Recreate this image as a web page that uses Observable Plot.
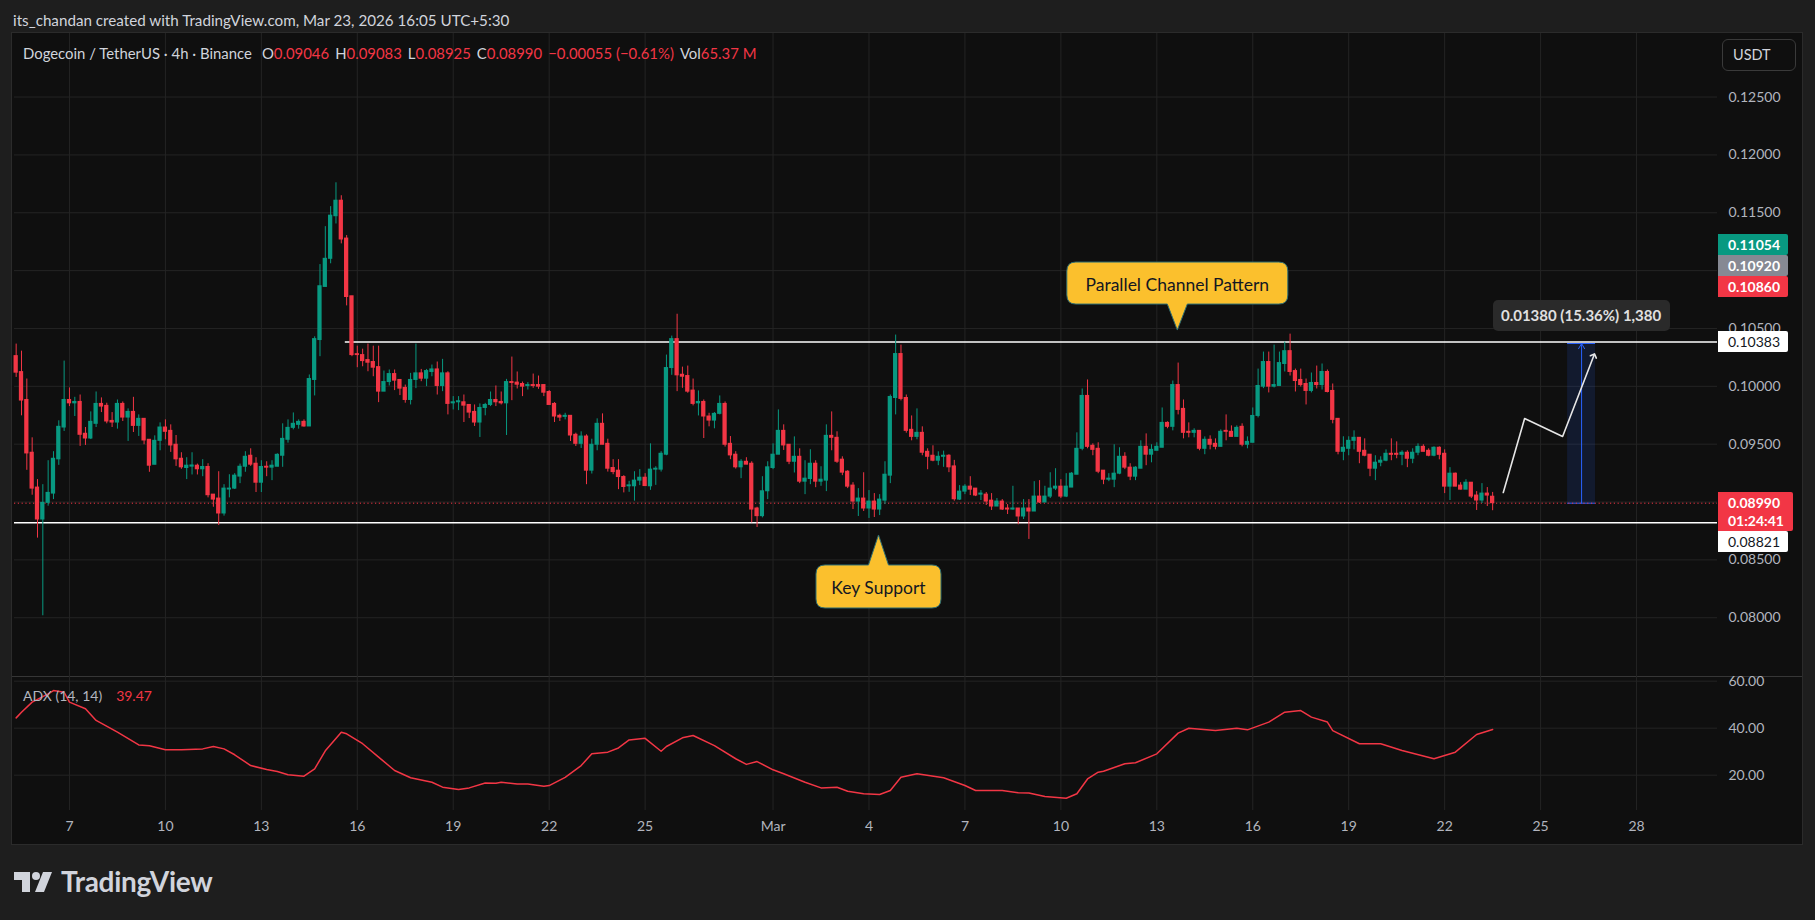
<!DOCTYPE html>
<html><head><meta charset="utf-8">
<script src="https://cdn.jsdelivr.net/npm/d3@7"></script>
<script src="https://cdn.jsdelivr.net/npm/@observablehq/plot@0.6"></script>
<style>
html,body{margin:0;padding:0;background:#1e1e1e;}
#root{position:relative;width:1815px;height:920px;overflow:hidden;background:#1e1e1e;font-family:Lato,"DejaVu Sans",sans-serif;}
.abs{position:absolute;white-space:nowrap;}
#frame{left:11px;top:32px;width:1792px;height:813px;background:#0f0f0f;box-sizing:border-box;border:1px solid #2b2b2b;}
.plab{position:absolute;box-sizing:border-box;font-size:14px;padding-left:10px;line-height:21px;height:21px;}
.red{color:#f23645;}
.gap{margin-left:6px;}
</style></head>
<body>
<div id="root">
  <div class="abs" style="left:13px;top:11px;font-size:15.2px;color:#d1d4dc;">its_chandan created with TradingView.com, Mar 23, 2026 16:05 UTC+5:30</div>
  <div id="frame" class="abs"></div>
  <div id="mainWrap" class="abs" style="left:12px;top:33px;"></div>
  <div class="abs" style="left:12px;top:675.5px;width:1790px;height:1px;background:#363636;"></div>
  <div id="adxWrap" class="abs" style="left:12px;top:676px;"></div>
  <div class="abs" style="left:23px;top:43.5px;font-size:14.9px;color:#d1d4dc;">Dogecoin / TetherUS · 4h · Binance<span style="margin-left:10px">O</span><span class="red">0.09046</span><span class="gap">H</span><span class="red">0.09083</span><span class="gap">L</span><span class="red">0.08925</span><span class="gap">C</span><span class="red">0.08990</span><span class="red gap">−0.00055 (−0.61%)</span><span class="gap">Vol</span><span class="red">65.37 M</span></div>
  <div class="abs" style="left:1722px;top:39px;width:74px;height:32px;box-sizing:border-box;border:1px solid #3a3a3a;border-radius:6px;color:#d1d4dc;font-size:14.5px;line-height:30px;padding-left:10px;">USDT</div>
  <div class="abs" style="left:23px;top:687px;font-size:14px;color:#b2b5be;">ADX (14, 14)<span class="red" style="margin-left:14px">39.47</span></div>
  <svg class="abs" style="left:14px;top:870px;" width="40" height="24" viewBox="0 0 40 22">
    <path d="M0 1 H16 V21 H8 V9 H0 Z" fill="#d1d4dc"/>
    <circle cx="22" cy="5" r="4" fill="#d1d4dc"/>
    <path d="M29 1 H38 L30 21 H21 Z" fill="#d1d4dc"/>
  </svg>
  <div class="abs" style="left:61px;top:864px;font-size:28px;font-weight:700;color:#d1d4dc;letter-spacing:-0.3px;">TradingView</div>
  <div id="overlay" class="abs" style="left:0;top:0;width:1815px;height:920px;pointer-events:none;"></div>
</div>
<script>
// ---------- data ----------
const candleStart = "2026-02-05T08:00:00Z"; // first 4h candle
const ohlc = [
[0.10261,0.10365,0.10077,0.10118],[0.10123,0.10304,0.09745,0.09877],[0.09882,0.10063,0.09274,0.09420],[0.09426,0.09555,0.09059,0.09116],
[0.09125,0.09194,0.08688,0.08849],[0.08849,0.09150,0.08017,0.08993],[0.08993,0.09357,0.08964,0.09079],[0.09073,0.09435,0.09021,0.09374],
[0.09369,0.09702,0.09317,0.09650],[0.09644,0.10218,0.09610,0.09882],[0.09882,0.09986,0.09825,0.09853],[0.09853,0.09905,0.09739,0.09865],
[0.09865,0.09925,0.09481,0.09581],[0.09590,0.09644,0.09489,0.09549],[0.09549,0.09779,0.09540,0.09693],[0.09676,0.09951,0.09644,0.09848],
[0.09848,0.09900,0.09773,0.09825],[0.09831,0.09854,0.09676,0.09696],[0.09701,0.09773,0.09644,0.09687],[0.09687,0.09882,0.09630,0.09848],
[0.09848,0.09865,0.09696,0.09730],[0.09730,0.09805,0.09524,0.09779],[0.09779,0.09905,0.09601,0.09658],[0.09658,0.09753,0.09567,0.09719],
[0.09719,0.09719,0.09495,0.09532],[0.09538,0.09538,0.09257,0.09314],[0.09322,0.09572,0.09322,0.09529],[0.09529,0.09684,0.09443,0.09644],
[0.09644,0.09710,0.09538,0.09607],[0.09615,0.09667,0.09429,0.09489],[0.09495,0.09575,0.09308,0.09369],[0.09374,0.09426,0.09283,0.09300],
[0.09294,0.09383,0.09194,0.09314],[0.09306,0.09426,0.09234,0.09316],[0.09314,0.09328,0.09234,0.09283],[0.09283,0.09366,0.09219,0.09303],
[0.09303,0.09331,0.09036,0.09059],[0.09064,0.09064,0.08955,0.09021],[0.09030,0.09262,0.08797,0.08901],[0.08901,0.09150,0.08878,0.09116],
[0.09108,0.09236,0.09036,0.09116],[0.09116,0.09245,0.09108,0.09228],[0.09220,0.09328,0.09159,0.09305],[0.09305,0.09435,0.09257,0.09391],
[0.09400,0.09460,0.09308,0.09323],[0.09331,0.09383,0.09082,0.09167],[0.09167,0.09357,0.09082,0.09303],[0.09305,0.09348,0.09219,0.09297],
[0.09297,0.09357,0.09185,0.09314],[0.09305,0.09417,0.09305,0.09408],[0.09400,0.09676,0.09300,0.09546],[0.09538,0.09710,0.09509,0.09641],
[0.09641,0.09770,0.09624,0.09676],[0.09667,0.09710,0.09630,0.09693],[0.09693,0.09710,0.09647,0.09653],[0.09653,0.10098,0.09653,0.10063],
[0.10055,0.10428,0.09917,0.10408],[0.10400,0.11052,0.10256,0.10865],[0.10859,0.11380,0.10859,0.11102],[0.11102,0.11553,0.11059,0.11475],
[0.11470,0.11759,0.11403,0.11604],[0.11604,0.11647,0.11231,0.11269],[0.11277,0.11303,0.10695,0.10772],[0.10778,0.10778,0.10256,0.10270],
[0.10278,0.10347,0.10161,0.10270],[0.10270,0.10321,0.10169,0.10218],[0.10227,0.10365,0.10126,0.10204],[0.10210,0.10347,0.10083,0.10161],
[0.10166,0.10347,0.09859,0.09954],[0.09954,0.10132,0.09954,0.10037],[0.10037,0.10141,0.10003,0.10106],[0.10106,0.10141,0.09963,0.10049],
[0.10055,0.10055,0.09920,0.09980],[0.09986,0.10011,0.09854,0.09882],[0.09882,0.10112,0.09839,0.10055],[0.10055,0.10365,0.09980,0.10112],
[0.10112,0.10146,0.10040,0.10066],[0.10066,0.10146,0.09997,0.10132],[0.10124,0.10184,0.10083,0.10146],[0.10146,0.10210,0.09925,0.10003],
[0.10003,0.10233,0.09954,0.10112],[0.10112,0.10126,0.09753,0.09848],[0.09853,0.09911,0.09796,0.09862],[0.09862,0.09911,0.09790,0.09871],
[0.09862,0.09925,0.09687,0.09833],[0.09839,0.09839,0.09721,0.09773],[0.09779,0.09839,0.09653,0.09687],[0.09687,0.09848,0.09558,0.09813],
[0.09813,0.09853,0.09745,0.09839],[0.09839,0.09951,0.09825,0.09882],[0.09882,0.10003,0.09825,0.09862],[0.09865,0.09951,0.09839,0.09853],
[0.09853,0.10060,0.09575,0.10037],[0.10037,0.10253,0.09876,0.10029],[0.10032,0.10124,0.09977,0.10014],[0.10020,0.10037,0.09911,0.09997],
[0.10003,0.10032,0.09968,0.10011],[0.10011,0.10106,0.09983,0.10003],[0.10011,0.10089,0.09974,0.09997],[0.10011,0.10011,0.09911,0.09945],
[0.09951,0.09963,0.09839,0.09839],[0.09848,0.09859,0.09687,0.09739],[0.09745,0.09759,0.09696,0.09730],[0.09736,0.09767,0.09710,0.09745],
[0.09745,0.09745,0.09523,0.09575],[0.09581,0.09595,0.09480,0.09503],[0.09503,0.09607,0.09463,0.09566],[0.09566,0.09581,0.09150,0.09271],
[0.09271,0.09543,0.09242,0.09495],[0.09495,0.09719,0.09443,0.09676],[0.09676,0.09762,0.09495,0.09495],[0.09503,0.09543,0.09259,0.09288],
[0.09294,0.09366,0.09236,0.09259],[0.09271,0.09366,0.09107,0.09216],[0.09216,0.09228,0.09079,0.09130],[0.09136,0.09179,0.09084,0.09144],
[0.09136,0.09262,0.09007,0.09185],[0.09185,0.09280,0.09142,0.09210],[0.09210,0.09245,0.09136,0.09138],[0.09136,0.09503,0.09101,0.09280],
[0.09280,0.09305,0.09144,0.09288],[0.09280,0.09435,0.09259,0.09417],[0.09409,0.10270,0.09400,0.10158],[0.10158,0.10434,0.10095,0.10408],
[0.10408,0.10623,0.09954,0.10095],[0.10100,0.10166,0.09983,0.10083],[0.10089,0.10175,0.09940,0.09954],[0.09963,0.10063,0.09831,0.09848],
[0.09853,0.09960,0.09744,0.09865],[0.09865,0.09882,0.09549,0.09739],[0.09739,0.09767,0.09650,0.09704],[0.09704,0.09773,0.09633,0.09762],
[0.09762,0.09917,0.09753,0.09848],[0.09848,0.09865,0.09475,0.09495],[0.09503,0.09566,0.09366,0.09403],[0.09409,0.09435,0.09285,0.09300],
[0.09300,0.09366,0.09202,0.09348],[0.09348,0.09383,0.09323,0.09323],[0.09331,0.09348,0.08820,0.08935],[0.08944,0.08955,0.08780,0.08878],
[0.08878,0.09219,0.08863,0.09093],[0.09093,0.09348,0.09021,0.09300],[0.09294,0.09503,0.09280,0.09409],[0.09409,0.09796,0.09409,0.09615],
[0.09615,0.09667,0.09446,0.09489],[0.09495,0.09495,0.09323,0.09348],[0.09348,0.09563,0.09251,0.09391],[0.09391,0.09460,0.09159,0.09176],
[0.09176,0.09357,0.09064,0.09202],[0.09199,0.09452,0.09150,0.09331],[0.09331,0.09357,0.09124,0.09176],[0.09176,0.09305,0.09136,0.09193],
[0.09185,0.09667,0.09090,0.09572],[0.09572,0.09779,0.09443,0.09555],[0.09555,0.09607,0.09334,0.09348],[0.09366,0.09391,0.09228,0.09254],
[0.09262,0.09271,0.09116,0.09133],[0.09142,0.09167,0.08935,0.09004],[0.09004,0.09116,0.08875,0.09030],[0.09030,0.09253,0.08918,0.08944],
[0.08944,0.09099,0.08858,0.09004],[0.09004,0.09073,0.08866,0.08935],[0.08935,0.09064,0.08883,0.09021],[0.09012,0.09348,0.08978,0.09236],
[0.09228,0.09925,0.09159,0.09908],[0.09899,0.10443,0.09753,0.10279],[0.10279,0.10356,0.09874,0.09891],[0.09899,0.09925,0.09595,0.09615],
[0.09624,0.09744,0.09529,0.09563],[0.09563,0.09805,0.09538,0.09598],[0.09598,0.09650,0.09400,0.09426],[0.09434,0.09460,0.09279,0.09391],
[0.09400,0.09486,0.09348,0.09357],[0.09357,0.09434,0.09314,0.09391],[0.09391,0.09440,0.09300,0.09400],[0.09400,0.09409,0.09254,0.09300],
[0.09308,0.09360,0.09007,0.09024],[0.09021,0.09142,0.09013,0.09090],[0.09090,0.09150,0.09064,0.09133],[0.09133,0.09219,0.09056,0.09107],
[0.09116,0.09116,0.09047,0.09056],[0.09064,0.09099,0.09013,0.09073],[0.09064,0.09082,0.08970,0.09004],[0.09012,0.09073,0.08927,0.08961],
[0.08961,0.09030,0.08961,0.09004],[0.09004,0.09021,0.08927,0.08935],[0.08944,0.08978,0.08892,0.08935],[0.08935,0.09136,0.08930,0.08944],
[0.08944,0.08944,0.08803,0.08875],[0.08875,0.09021,0.08849,0.08944],[0.08944,0.09021,0.08677,0.08918],[0.08918,0.09176,0.08918,0.09047],
[0.09047,0.09185,0.08987,0.08996],[0.08996,0.09136,0.08996,0.09047],[0.09047,0.09253,0.09030,0.09116],[0.09116,0.09288,0.09099,0.09133],
[0.09133,0.09193,0.09030,0.09047],[0.09047,0.09245,0.09038,0.09133],[0.09125,0.09254,0.09125,0.09245],[0.09236,0.09598,0.09236,0.09460],
[0.09460,0.09977,0.09443,0.09917],[0.09917,0.10055,0.09460,0.09477],[0.09486,0.09503,0.09400,0.09451],[0.09460,0.09512,0.09245,0.09262],
[0.09271,0.09271,0.09150,0.09193],[0.09193,0.09245,0.09176,0.09202],[0.09193,0.09495,0.09124,0.09245],[0.09245,0.09469,0.09236,0.09391],
[0.09391,0.09426,0.09280,0.09297],[0.09297,0.09331,0.09185,0.09219],[0.09219,0.09305,0.09185,0.09297],[0.09288,0.09529,0.09288,0.09477],
[0.09477,0.09589,0.09314,0.09409],[0.09409,0.09495,0.09339,0.09451],[0.09443,0.09512,0.09443,0.09477],[0.09469,0.09813,0.09469,0.09684],
[0.09684,0.09693,0.09633,0.09650],[0.09650,0.10046,0.09615,0.10011],[0.10011,0.10201,0.09753,0.09796],[0.09805,0.09882,0.09546,0.09598],
[0.09607,0.09684,0.09555,0.09598],[0.09598,0.09633,0.09555,0.09615],[0.09615,0.09615,0.09443,0.09460],[0.09460,0.09563,0.09409,0.09538],
[0.09538,0.09572,0.09451,0.09495],[0.09503,0.09546,0.09451,0.09477],[0.09477,0.09624,0.09477,0.09607],[0.09615,0.09753,0.09529,0.09607],
[0.09607,0.09658,0.09563,0.09563],[0.09563,0.09658,0.09563,0.09641],[0.09650,0.09676,0.09477,0.09495],[0.09495,0.09563,0.09460,0.09520],
[0.09512,0.09813,0.09512,0.09744],[0.09744,0.10149,0.09727,0.10003],[0.09997,0.10296,0.09980,0.10210],[0.10210,0.10296,0.09943,0.09997],
[0.09997,0.10356,0.09986,0.10011],[0.10003,0.10296,0.10003,0.10201],[0.10193,0.10382,0.10124,0.10304],[0.10304,0.10451,0.10089,0.10124],
[0.10132,0.10149,0.09951,0.10046],[0.10055,0.10149,0.09994,0.10011],[0.10020,0.10063,0.09839,0.09960],[0.09960,0.10115,0.09943,0.10029],
[0.10029,0.10175,0.09977,0.10011],[0.10011,0.10193,0.09968,0.10124],[0.10124,0.10141,0.09943,0.09951],[0.09960,0.10020,0.09676,0.09710],
[0.09719,0.09719,0.09408,0.09434],[0.09434,0.09564,0.09357,0.09469],[0.09460,0.09564,0.09400,0.09529],[0.09529,0.09615,0.09451,0.09555],
[0.09555,0.09555,0.09331,0.09434],[0.09443,0.09546,0.09391,0.09400],[0.09409,0.09409,0.09219,0.09288],[0.09288,0.09400,0.09185,0.09340],
[0.09340,0.09391,0.09305,0.09357],[0.09357,0.09451,0.09348,0.09417],[0.09417,0.09546,0.09357,0.09408],[0.09417,0.09520,0.09374,0.09408],
[0.09408,0.09443,0.09314,0.09426],[0.09426,0.09443,0.09297,0.09374],[0.09374,0.09460,0.09331,0.09426],[0.09426,0.09503,0.09400,0.09477],
[0.09477,0.09495,0.09434,0.09434],[0.09443,0.09460,0.09391,0.09400],[0.09400,0.09477,0.09391,0.09469],[0.09469,0.09477,0.09365,0.09408],
[0.09417,0.09451,0.09073,0.09133],[0.09133,0.09297,0.09013,0.09245],[0.09245,0.09250,0.09133,0.09133],[0.09142,0.09167,0.09105,0.09107],
[0.09107,0.09193,0.09107,0.09167],[0.09167,0.09167,0.09030,0.09047],[0.09056,0.09090,0.08927,0.09013],[0.09013,0.09159,0.08987,0.09073],
[0.09073,0.09125,0.08961,0.09056],[0.09046,0.09083,0.08925,0.08990]
];
// ADX (14,14) readings: [candle index, value]
const adxPoints = [
[0,44.4],[1,46.8],[3,51.1],[6,54.6],[7,56.0],[9,55.3],[10,51.1],[13,48.3],[15,43.3],[19,38.3],[23,32.9],[25,32.5],
[28,30.8],[31,30.8],[35,31.2],[37,32.2],[39,31.2],[41,28.7],[44,24.1],[47,22.4],[49,21.6],[51,20.2],[54,19.6],[56,22.7],
[58,30.4],[61,38.3],[62,37.6],[65,33.4],[68,27.7],[71,22.0],[74,18.9],[78,17.0],[80,14.9],[83,13.9],[85,14.6],[88,16.7],
[90,16.6],[91,17.0],[94,16.3],[96,16.3],[99,15.3],[100,15.6],[103,19.1],[106,24.1],[108,29.1],[111,29.8],[113,31.6],[115,35.0],
[118,35.7],[121,30.2],[122,32.2],[125,35.9],[127,36.9],[131,32.6],[135,27.0],[137,24.6],[139,25.8],[142,22.3],[144,20.6],[148,17.0],
[151,14.6],[154,14.9],[156,13.2],[159,12.1],[162,11.8],[164,13.5],[166,19.1],[169,20.6],[174,18.9],[178,15.6],[180,13.5],[185,13.5],
[188,12.5],[190,12.4],[193,10.9],[197,10.2],[199,12.1],[201,18.4],[203,21.3],[204,21.7],[208,24.9],[210,25.3],[214,29.1],[218,37.9],
[220,40.0],[225,39.0],[229,40.0],[231,39.3],[235,42.6],[238,46.8],[241,47.5],[243,44.7],[246,42.6],[247,39.0],[252,33.4],[256,33.4],
[260,30.5],[266,27.0],[270,29.8],[274,37.3],[277,39.47]
];
const xTickDates = ["2026-02-07","2026-02-10","2026-02-13","2026-02-16","2026-02-19","2026-02-22","2026-02-25","2026-03-01","2026-03-04","2026-03-07","2026-03-10","2026-03-13","2026-03-16","2026-03-19","2026-03-22","2026-03-25","2026-03-28"];
const xTickLabels = ["7","10","13","16","19","22","25","Mar","4","7","10","13","16","19","22","25","28"];
const priceGrid = [0.080,0.085,0.090,0.095,0.100,0.105,0.110,0.115,0.120,0.125];
// 0.09000 and 0.11000 sit behind the price labels in the reference, so they are not printed
const priceTickLabels = [0.080,0.085,0.095,0.100,0.105,0.115,0.120,0.125];
const adxTicks = [20,40,60];
const resistance = 0.10383, support = 0.08821, lastPrice = 0.08990;
const resistanceStart = "2026-02-15T15:00:00Z";
const projection = [["2026-03-23T20:00:00Z",0.09082],["2026-03-24T12:00:00Z",0.09722],["2026-03-25T16:30:00Z",0.09567],["2026-03-26T16:00:00Z",0.10267]];
const measure = {t1:"2026-03-25T20:15:00Z", t2:"2026-03-26T17:15:00Z", p1:0.08990, p2:0.10370, text:"0.01380 (15.36%) 1,380"};
const callouts = [
  {text:"Parallel Channel Pattern", t:"2026-03-13T15:45:00Z", p:0.10482, w:221, h:42, gap:26, dir:"above"},
  {text:"Key Support", t:"2026-03-04T07:30:00Z", p:0.08711, w:125, h:43, gap:30, dir:"below"}
];
const axisLabels = [
  {v:0.11054, text:"0.11054", bg:"#089981", fg:"#ffffff"},
  {v:0.10920, text:"0.10920", bg:"#868993", fg:"#ffffff"},
  {v:0.10860, text:"0.10860", bg:"#f23645", fg:"#ffffff"},
  {v:0.10383, text:"0.10383", bg:"#ffffff", fg:"#131722"},
  {v:0.08990, text:"0.08990", sub:"01:24:41", bg:"#f23645", fg:"#ffffff", fixed:true},
  {v:0.08821, text:"0.08821", bg:"#ffffff", fg:"#131722"}
];
const xDomain = ["2026-02-05T06:45:00Z","2026-03-30T12:45:00Z"];
const yDomain = [0.074922, 0.130492];
const adxDomain = [4.98, 62.0];

// ---------- build ----------
const UP = "#089981", DOWN = "#f23645", GRID = "#242424";
const H = 3600 * 1000;
const t0 = new Date(candleStart).getTime();
const candles = ohlc.map((d, i) => ({t: new Date(t0 + i * 4 * H), o: d[0], h: d[1], l: d[2], c: d[3]}));
const col = d => d.c >= d.o ? UP : DOWN;
const tickDates = xTickDates.map(s => new Date(s + "T00:00:00Z"));
const tickLabelMap = new Map(tickDates.map((d, i) => [+d, xTickLabels[i]]));
const xd = xDomain.map(s => new Date(s));
const baseStyle = {background: "transparent", color: "#b2b5be", fontFamily: "Lato, DejaVu Sans, sans-serif", fontSize: "14px", overflow: "visible"};

const main = Plot.plot({
  width: 1790, height: 643, marginLeft: 2, marginRight: 85, marginTop: 0, marginBottom: 0,
  style: baseStyle,
  color: {type: "identity"},
  x: {type: "utc", domain: xd, axis: null},
  y: {domain: yDomain, axis: null},
  marks: [
    Plot.gridX(tickDates, {stroke: GRID, strokeOpacity: 1}),
    Plot.gridY(priceGrid, {stroke: GRID, strokeOpacity: 1}),
    Plot.axisY(priceTickLabels, {anchor: "right", tickSize: 0, tickPadding: 11, tickFormat: d3.format(".5f"), fill: "#b2b5be", fontSize: 14, label: null}),
    Plot.rect([measure], {x1: d => new Date(d.t1), x2: d => new Date(d.t2), y1: "p1", y2: "p2", fill: "#2962ff", fillOpacity: 0.13}),
    Plot.ruleY([measure], {x1: d => new Date(d.t1), x2: d => new Date(d.t2), y: "p1", stroke: "#2962ff", strokeWidth: 1}),
    Plot.ruleY([measure], {x1: d => new Date(d.t1), x2: d => new Date(d.t2), y: "p2", stroke: "#2962ff", strokeWidth: 1}),
    Plot.arrow([measure], {x: d => new Date((new Date(d.t1).getTime() + new Date(d.t2).getTime()) / 2), y1: "p1", y2: "p2", stroke: "#2962ff", strokeWidth: 1, headLength: 9, bend: false}),
    Plot.ruleY([lastPrice], {stroke: DOWN, strokeWidth: 1, strokeDasharray: "1.2,2.6"}),
    Plot.ruleY([support], {stroke: "#ffffff", strokeWidth: 1.5}),
    Plot.ruleY([resistance], {x1: new Date(resistanceStart), x2: xd[1], stroke: "#ffffff", strokeWidth: 1.5}),
    Plot.ruleX(candles, {x: "t", y1: "l", y2: "h", stroke: col, strokeWidth: 1}),
    Plot.rect(candles, {x1: d => new Date(+d.t - 1.6 * H), x2: d => new Date(+d.t + 1.6 * H), y1: d => Math.min(d.o, d.c), y2: d => Math.max(d.o, d.c), fill: col, insetTop: -0.5, insetBottom: -0.5}),
    Plot.line(projection, {x: d => new Date(d[0]), y: d => d[1], stroke: "#e6e6e6", strokeWidth: 1.6, markerEnd: "arrow"})
  ]
});
document.getElementById("mainWrap").appendChild(main);

const adx = Plot.plot({
  width: 1790, height: 168, marginLeft: 2, marginRight: 85, marginTop: 0, marginBottom: 34,
  style: baseStyle,
  x: {type: "utc", domain: xd, axis: null},
  y: {domain: adxDomain, axis: null},
  marks: [
    Plot.gridX(tickDates, {stroke: GRID, strokeOpacity: 1}),
    Plot.gridY(adxTicks, {stroke: GRID, strokeOpacity: 1}),
    Plot.axisY(adxTicks, {anchor: "right", tickSize: 0, tickPadding: 11, tickFormat: d3.format(".2f"), fill: "#b2b5be", fontSize: 14, label: null}),
    Plot.axisX(tickDates, {anchor: "bottom", tickSize: 0, tickPadding: 11, tickFormat: d => tickLabelMap.get(+d), fill: "#b2b5be", fontSize: 14, label: null}),
    Plot.line(adxPoints, {x: d => new Date(t0 + d[0] * 4 * H), y: d => d[1], stroke: DOWN, strokeWidth: 1.5})
  ]
});
document.getElementById("adxWrap").appendChild(adx);

// ---------- overlays positioned through the Plot scales ----------
const xs = main.scale("x"), ys = main.scale("y");
const PX = d => 12 + xs.apply(d);
const PY = v => 33 + ys.apply(v);
const root = d3.select("#root");

// right-axis price labels with simple collision resolution
const labs = axisLabels.map(l => {
  const hgt = l.sub ? 39 : 21;
  const top = l.sub ? PY(l.v) - 11 : PY(l.v) - 10.5;
  return {...l, hgt, top};
}).sort((a, b) => a.top - b.top);
const fi = labs.findIndex(l => l.fixed);
for (let i = fi + 1; i < labs.length; i++) labs[i].top = Math.max(labs[i].top, labs[i - 1].top + labs[i - 1].hgt);
for (let i = fi - 1; i >= 0; i--) labs[i].top = Math.min(labs[i].top, labs[i + 1].top - labs[i].hgt);
labs.forEach(l => {
  const div = root.append("div").attr("class", "plab")
    .style("left", "1718px").style("top", l.top + "px")
    .style("width", (l.sub ? 75 : 70) + "px").style("height", l.hgt + "px")
    .style("background", l.bg).style("color", l.fg)
    .style("border-radius", "0 2px 2px 0")
    .style("font-weight", l.fg === "#ffffff" ? "700" : "400");
  if (l.sub) {
    div.style("line-height", "18px").style("padding-top", "2px");
    div.html(l.text + "<br>" + l.sub);
  } else div.text(l.text);
});

// measure label
{
  const cx = (PX(new Date(measure.t1)) + PX(new Date(measure.t2))) / 2;
  const topY = PY(measure.p2);
  root.append("div").attr("class", "abs")
    .style("left", (cx - 88.5) + "px").style("top", (topY - 43) + "px")
    .style("width", "177px").style("height", "31px").style("line-height", "31px")
    .style("background", "#2a2a2a").style("border-radius", "5px")
    .style("color", "#e0e0e0").style("font-size", "15px").style("font-weight", "700")
    .style("text-align", "center").text(measure.text);
}

// yellow callouts
const svg = d3.select("#overlay").append("svg").attr("width", 1815).attr("height", 920);
callouts.forEach(c => {
  const tx = PX(new Date(c.t)), ty = PY(c.p);
  const r = 9, hw = 10;
  const bx = tx - c.w / 2;
  let by, path;
  if (c.dir === "above") {
    by = ty - c.gap - c.h;
    const bb = by + c.h;
    path = `M${bx + r},${by} H${bx + c.w - r} Q${bx + c.w},${by} ${bx + c.w},${by + r} V${bb - r} Q${bx + c.w},${bb} ${bx + c.w - r},${bb} H${tx + hw} L${tx},${ty} L${tx - hw},${bb} H${bx + r} Q${bx},${bb} ${bx},${bb - r} V${by + r} Q${bx},${by} ${bx + r},${by} Z`;
  } else {
    by = ty + c.gap;
    const bb = by + c.h;
    path = `M${bx + r},${by} H${tx - hw} L${tx},${ty} L${tx + hw},${by} H${bx + c.w - r} Q${bx + c.w},${by} ${bx + c.w},${by + r} V${bb - r} Q${bx + c.w},${bb} ${bx + c.w - r},${bb} H${bx + r} Q${bx},${bb} ${bx},${bb - r} V${by + r} Q${bx},${by} ${bx + r},${by} Z`;
  }
  svg.append("path").attr("d", path).attr("fill", "#fbc02d").attr("stroke", "#2f6f73").attr("stroke-width", 1);
  svg.append("text").attr("x", tx).attr("y", by + c.h / 2 + 1).attr("text-anchor", "middle").attr("dominant-baseline", "central")
    .attr("font-family", "Lato, DejaVu Sans, sans-serif").attr("font-size", 17.5).attr("fill", "#131722").text(c.text);
});
</script>
</body></html>
